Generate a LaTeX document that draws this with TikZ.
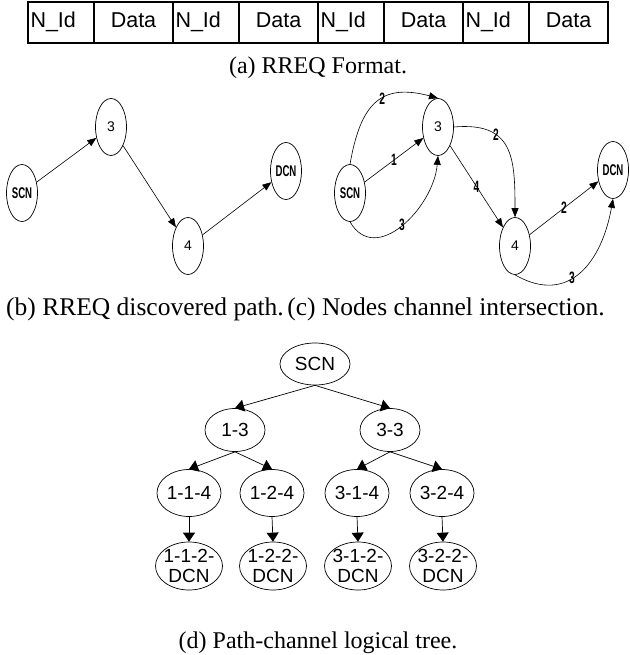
\documentclass[tikz,border=0pt]{standalone}
\usepackage{fontspec}
\setmainfont{Liberation Serif}
\setsansfont{Liberation Sans}
\newfontfamily\narrowsans[FakeStretch=0.62]{Liberation Sans}
\usetikzlibrary{shapes.geometric,arrows.meta}
\begin{document}
\begin{tikzpicture}[x=1pt,y=-1pt,
  cellbox/.style={draw, line width=1.4pt, minimum height=41pt, inner sep=0pt, text height=15.5pt, text depth=4.5pt, font=\sffamily\fontsize{21.5}{24}\selectfont},
  idcell/.style={cellbox, text width=61pt, inner xsep=2.5pt, align=left},
  datacell/.style={cellbox, minimum width=79pt},
  captxt/.style={font=\rmfamily\fontsize{24}{28}\selectfont, inner sep=0pt},
  capbig/.style={font=\rmfamily\fontsize{25.5}{28}\selectfont, inner sep=0pt},
  gnode/.style={draw, ellipse, line width=0.7pt, minimum width=31pt, minimum height=57pt, inner sep=0pt},
  glab/.style={font=\narrowsans\bfseries\fontsize{15.5}{17}\selectfont},
  gdig/.style={font=\sffamily\fontsize{14}{15}\selectfont},
  garr/.style={-{Triangle[length=9pt,width=7pt]}, line width=0.6pt},
  elab/.style={font=\narrowsans\bfseries\fontsize{16.5}{17}\selectfont, inner sep=0.5pt},
  tnode/.style={draw, ellipse, line width=0.7pt, inner sep=0pt, font=\sffamily\fontsize{19}{20}\selectfont, align=center},
  tarr/.style={-{Triangle[length=9pt,width=12pt]}, line width=0.7pt},
]
\useasboundingbox (0,0) rectangle (629,655);
% (a) table
\node[idcell] (i1) at (61,22.5) {N\_Id};
\node[datacell] (d1) at (133.5,22.5) {Data};
\node[idcell] (i2) at (206,22.5) {N\_Id};
\node[datacell] (d2) at (278.5,22.5) {Data};
\node[idcell] (i3) at (351,22.5) {N\_Id};
\node[datacell] (d3) at (423.5,22.5) {Data};
\node[idcell] (i4) at (496,22.5) {N\_Id};
\node[datacell] (d4) at (568.5,22.5) {Data};
\node[captxt] (capa) at (318,68) {(a) RREQ Format.};
% (b)
\node[gnode, glab] (bs) at (22,193) {SCN};
\node[gnode, gdig] (b3) at (111,127) {3};
\node[gnode, gdig] (b4) at (188,246) {4};
\node[gnode, glab] (bd) at (286,171) {DCN};
\draw[garr] (bs) -- (b3);
\draw[garr] (b3) -- (b4);
\draw[garr] (b4) -- (bd);
\node[capbig] (capb) at (145,309) {(b) RREQ discovered path.};
% (c)
\node[gnode, glab] (cs) at (350,193) {SCN};
\node[gnode, gdig] (c3) at (438,127) {3};
\node[gnode, gdig] (c4) at (515,246) {4};
\node[gnode, glab] (cd) at (613,170) {DCN};
\draw[garr] (cs) -- node[elab]{1} (c3);
\draw[garr] (c3) -- node[elab]{4} (c4);
\draw[garr] (c4) -- node[elab]{2} (cd);
\draw[garr] (cs.north) to[out=80,in=165,looseness=1.4] node[elab,pos=0.57]{2} (c3.north);
\draw[garr] (cs.south) to[out=-60,in=-95,looseness=1.2] node[elab,pos=0.5]{3} (c3.south);
\draw[garr] (c3.east) to[out=5,in=90,looseness=1.4] node[elab,pos=0.33]{2} (c4.north);
\draw[garr] (c4.south) to[out=-30,in=-100,looseness=1.3] node[elab,pos=0.42]{3} (cd.south);
\node[capbig] (capc) at (446,309) {(c) Nodes channel intersection.};
% (d) tree
\node[tnode, minimum width=70pt, minimum height=42pt] (tS) at (315,364) {SCN};
\node[tnode, minimum width=60pt, minimum height=43pt] (t13) at (235,430) {1-3};
\node[tnode, minimum width=60pt, minimum height=43pt] (t33) at (390,430) {3-3};
\node[tnode, minimum width=64pt, minimum height=47pt] (t114) at (189,493) {1-1-4};
\node[tnode, minimum width=64pt, minimum height=47pt] (t124) at (272,493) {1-2-4};
\node[tnode, minimum width=64pt, minimum height=47pt] (t314) at (357,493) {3-1-4};
\node[tnode, minimum width=64pt, minimum height=47pt] (t324) at (442,493) {3-2-4};
\node[tnode, minimum width=67pt, minimum height=48pt, inner sep=-2pt] (t1122) at (189,566) {1-1-2-\\DCN};
\node[tnode, minimum width=67pt, minimum height=48pt, inner sep=-2pt] (t1222) at (273,566) {1-2-2-\\DCN};
\node[tnode, minimum width=67pt, minimum height=48pt, inner sep=-2pt] (t3122) at (358,566) {3-1-2-\\DCN};
\node[tnode, minimum width=67pt, minimum height=48pt, inner sep=-2pt] (t3222) at (443,566) {3-2-2-\\DCN};
\draw[tarr] (tS.south) -- (t13.north);
\draw[tarr] (tS.south) -- (t33.north);
\draw[tarr] (t13.south) -- (t114.north);
\draw[tarr] (t13.south) -- (t124.north);
\draw[tarr] (t33.south) -- (t314.north);
\draw[tarr] (t33.south) -- (t324.north);
\draw[tarr] (t114.south) -- (t1122.north);
\draw[tarr] (t124.south) -- (t1222.north);
\draw[tarr] (t314.south) -- (t3122.north);
\draw[tarr] (t324.south) -- (t3222.north);
\node[captxt] (capd) at (318,643) {(d) Path-channel logical tree.};
\end{tikzpicture}
\end{document}
